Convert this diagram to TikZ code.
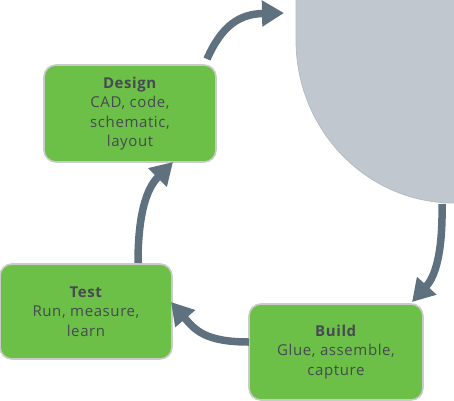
\documentclass[tikz,border=0pt]{standalone}
\usepackage{fontspec}
\setmainfont[LetterSpace=4]{Open Sans}
\usetikzlibrary{arrows.meta}
\definecolor{boxgreen}{HTML}{6CBF47}
\definecolor{boxedge}{HTML}{C9CCCB}
\definecolor{txt}{HTML}{454B50}
\definecolor{arrowc}{HTML}{5F717E}
\definecolor{shapegray}{HTML}{C0C7CE}
\definecolor{shapeedge}{HTML}{B5BCC2}
\tikzset{
  stepbox/.style={draw=boxedge, line width=1.6pt, fill=boxgreen, rounded corners=12pt,
    inner sep=0pt, text=txt, align=center, font=\fontsize{15}{19.5}\selectfont},
  flow/.style={draw=arrowc, line width=7.5pt, -{Triangle[length=22pt,width=25pt]}}
}
\begin{document}
\begin{tikzpicture}[x=1pt,y=-1pt]
\useasboundingbox (0,0) rectangle (454,400);
% gray shape
\fill[shapegray] (296,-5) -- (296,40) arc[start angle=180,end angle=90,x radius=158,y radius=163] -- (460,203) -- (460,-5) -- cycle;
\draw[shapeedge, line width=0.8pt] (296,-5) -- (296,40) arc[start angle=180,end angle=90,x radius=158,y radius=163] -- (460,203);
% boxes
\node[stepbox, minimum width=172pt, minimum height=97pt] (design) at (130,113.5)
  {\textbf{Design}\\CAD, code,\\schematic,\\layout};
\node[stepbox, minimum width=172pt, minimum height=95pt] (test) at (86,311.5)
  {\textbf{Test}\\Run, measure,\\learn};
\node[stepbox, minimum width=174pt, minimum height=96pt] (build) at (336,352)
  {\textbf{Build}\\Glue, assemble,\\capture};
% arrow endpoints
\coordinate (d1) at (207,59);
\coordinate (g0) at (284,13);
\coordinate (g1) at (442,204);
\coordinate (b0) at (412,302);
\coordinate (b1) at (249,342);
\coordinate (t0) at (171,302);
\coordinate (t1) at (138,263);
\coordinate (d0) at (173,162);
% arrows
\draw[flow] (d1) .. controls (222,25) and (240,14) .. (g0);
\draw[flow] (g1) .. controls (443,262) and (432,280) .. (b0);
\draw[flow] (b1) .. controls (205,342) and (195,330) .. (t0);
\draw[flow] (t1) .. controls (138,205) and (150,185) .. (d0);
\end{tikzpicture}
\end{document}
